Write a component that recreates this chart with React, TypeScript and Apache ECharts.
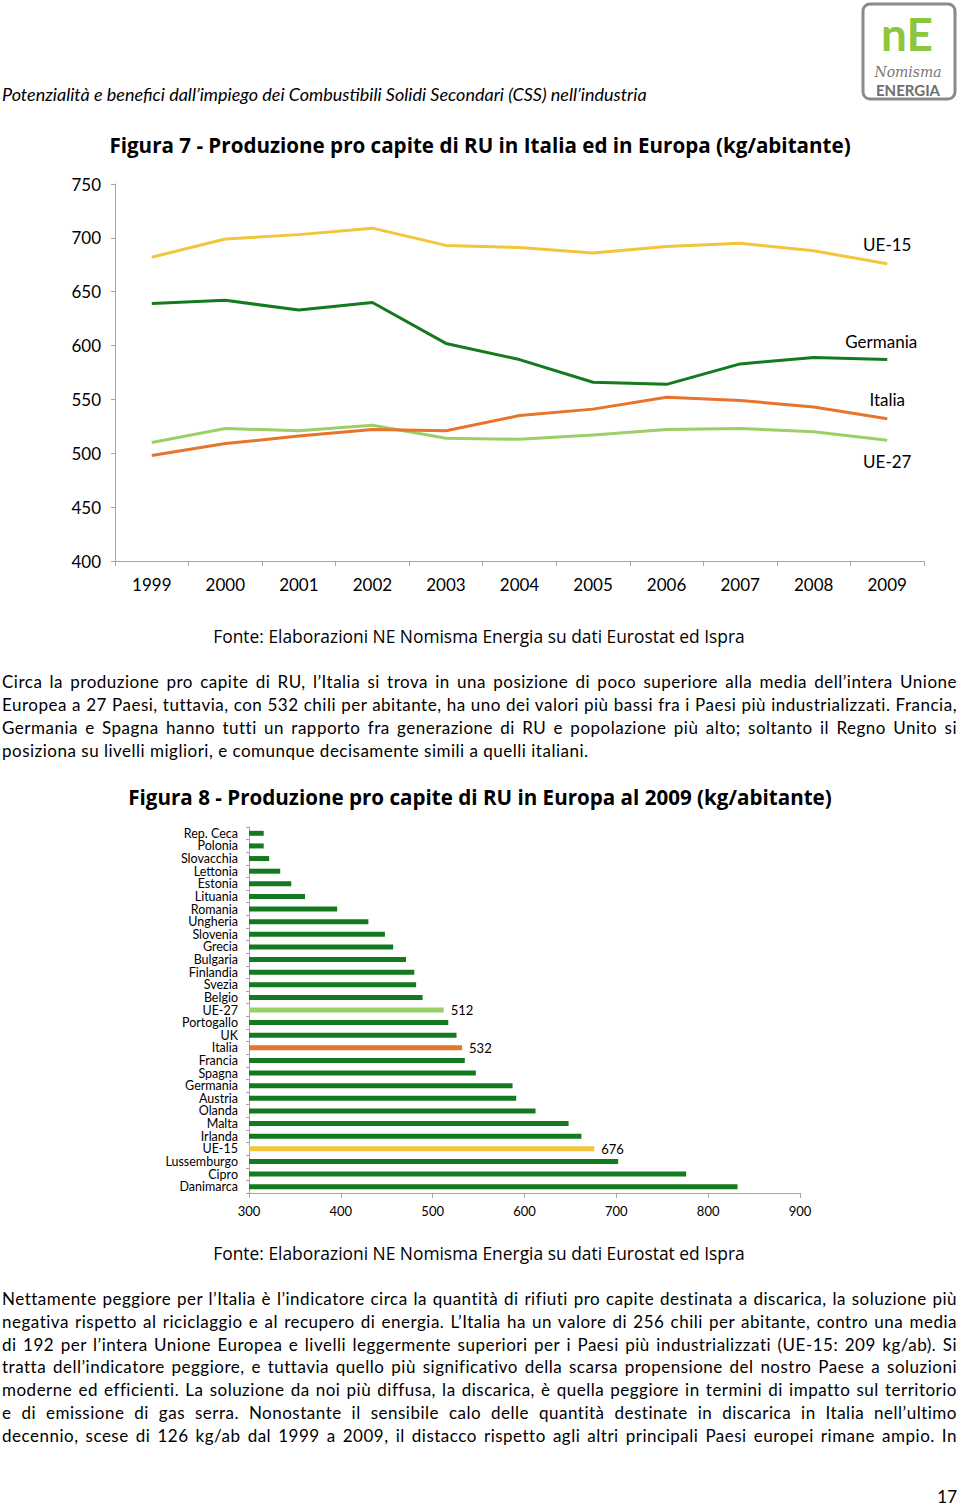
import React, { useEffect, useRef } from "react";
import * as echarts from "echarts";

const FONT = "Lato, 'Noto Sans', sans-serif";
const TITLE_FONT = "'Open Sans', Lato, sans-serif";

// Figura 7 data
const years = ["1999", "2000", "2001", "2002", "2003", "2004", "2005", "2006", "2007", "2008", "2009"];
const ue15 = [682, 699, 703, 709, 693, 691, 686, 692, 695, 688, 676];
const germania = [639, 642, 633, 640, 602, 587, 566, 564, 583, 589, 587];
const italia = [498, 509, 516, 522, 521, 535, 541, 552, 549, 543, 532];
const ue27 = [510, 523, 521, 526, 514, 513, 517, 522, 523, 520, 512];
const lineTicks = { min: 400, max: 750, interval: 50 };

// Figura 8 data
const countries = [
  "Rep. Ceca", "Polonia", "Slovacchia", "Lettonia", "Estonia", "Lituania", "Romania", "Ungheria",
  "Slovenia", "Grecia", "Bulgaria", "Finlandia", "Svezia", "Belgio", "UE-27", "Portogallo", "UK",
  "Italia", "Francia", "Spagna", "Germania", "Austria", "Olanda", "Malta", "Irlanda", "UE-15",
  "Lussemburgo", "Cipro", "Danimarca",
];
const values2009 = [
  316, 316, 322, 334, 346, 361, 396, 430, 448, 457, 471, 480, 482, 489, 512, 517, 526,
  532, 535, 547, 587, 591, 612, 648, 662, 676, 702, 776, 832,
];
const barTicks = { min: 300, max: 900, interval: 100 };

const DARK_GREEN = "#137a1f";
const LIGHT_GREEN = "#9bd066";
const ORANGE = "#e8732a";
const YELLOW = "#f3c53b";
const AXIS_GRAY = "#a6a6a6";

const highlight: Record<string, string> = { "UE-27": LIGHT_GREEN, Italia: ORANGE, "UE-15": YELLOW };

const para1 = [
  "Circa la produzione pro capite di RU, l’Italia si trova in una posizione di poco superiore alla media dell’intera Unione",
  "Europea a 27 Paesi, tuttavia, con 532 chili per abitante, ha uno dei valori più bassi fra i Paesi più industrializzati. Francia,",
  "Germania e Spagna hanno tutti un rapporto fra generazione di RU e popolazione più alto; soltanto il Regno Unito si",
  "posiziona su livelli migliori, e comunque decisamente simili a quelli italiani.",
];
const para2 = [
  "Nettamente peggiore per l’Italia è l’indicatore circa la quantità di rifiuti pro capite destinata a discarica, la soluzione più",
  "negativa rispetto al riciclaggio e al recupero di energia. L’Italia ha un valore di 256 chili per abitante, contro una media",
  "di 192 per l’intera Unione Europea e livelli leggermente superiori per i Paesi più industrializzati (UE-15: 209 kg/ab). Si",
  "tratta dell’indicatore peggiore, e tuttavia quello più significativo della scarsa propensione del nostro Paese a soluzioni",
  "moderne ed efficienti. La soluzione da noi più diffusa, la discarica, è quella peggiore in termini di impatto sul territorio",
  "e di emissione di gas serra. Nonostante il sensibile calo delle quantità destinate in discarica in Italia nell’ultimo",
  "decennio, scese di 126 kg/ab dal 1999 a 2009, il distacco rispetto agli altri principali Paesi europei rimane ampio. In",
];

function endLabelData(vals: number[], name: string, pos: "top" | "bottom", dist: number, dx = 0) {
  return vals.map((v, i) =>
    i === vals.length - 1
      ? {
          value: v,
          label: {
            show: true,
            position: pos,
            distance: dist,
            offset: [dx, 0],
            formatter: name,
            fontSize: 17,
            fontFamily: FONT,
            color: "#000",
          },
        }
      : v
  );
}

function lineSeries(name: string, vals: number[], color: string, pos: "top" | "bottom", dist: number, dx = 0) {
  return {
    type: "line",
    name,
    xAxisIndex: 0,
    yAxisIndex: 0,
    data: endLabelData(vals, name, pos, dist, dx),
    symbol: "circle",
    symbolSize: 0.1,
    showSymbol: true,
    showAllSymbol: true,
    label: { show: false },
    lineStyle: { color, width: 3 },
    itemStyle: { color },
  };
}

export default function App() {
  const ref = useRef<HTMLDivElement>(null);

  useEffect(() => {
    if (!ref.current) return;
    const chart = echarts.init(ref.current, undefined, { renderer: "svg" });
    const txt = (x: number, y: number, text: string, size: number, extra: any = {}) => ({
      type: "text",
      x,
      y,
      silent: true,
      style: {
        text,
        fontSize: size,
        fontFamily: FONT,
        fill: "#000",
        align: "center",
        verticalAlign: "middle",
        lineHeight: size,
        ...extra,
      },
    });
    chart.setOption({
      animation: false,
      textStyle: { fontFamily: FONT },
      grid: [
        { left: 115, top: 184, width: 809, height: 377 },
        { left: 249, top: 827, width: 551, height: 366 },
      ],
      xAxis: [
        {
          gridIndex: 0,
          type: "category",
          data: years,
          boundaryGap: true,
          axisLine: { show: true, lineStyle: { color: AXIS_GRAY, width: 1 } },
          axisTick: { show: true, length: 5, lineStyle: { color: AXIS_GRAY } },
          axisLabel: { fontSize: 17, margin: 15, color: "#000", fontFamily: FONT },
          splitLine: { show: false },
        },
        {
          gridIndex: 1,
          type: "value",
          ...barTicks,
          axisLine: { show: true, lineStyle: { color: AXIS_GRAY, width: 1 } },
          axisTick: { show: true, length: 5, lineStyle: { color: AXIS_GRAY } },
          axisLabel: { fontSize: 13, margin: 11, color: "#000", fontFamily: FONT },
          splitLine: { show: false },
        },
      ],
      yAxis: [
        {
          gridIndex: 0,
          type: "value",
          ...lineTicks,
          axisLine: { show: true, lineStyle: { color: AXIS_GRAY, width: 1 } },
          axisTick: { show: true, length: 4, lineStyle: { color: AXIS_GRAY } },
          axisLabel: { fontSize: 17, margin: 14, color: "#000", fontFamily: FONT },
          splitLine: { show: false },
        },
        {
          gridIndex: 1,
          type: "category",
          data: countries,
          inverse: true,
          axisLine: { show: true, lineStyle: { color: AXIS_GRAY, width: 1 } },
          axisTick: { show: true, length: 3, lineStyle: { color: AXIS_GRAY } },
          axisLabel: { fontSize: 12.5, margin: 11, color: "#000", interval: 0, fontFamily: FONT },
          splitLine: { show: false },
        },
      ],
      series: [
        lineSeries("UE-27", ue27, LIGHT_GREEN, "bottom", 13),
        lineSeries("Italia", italia, ORANGE, "top", 11),
        lineSeries("Germania", germania, DARK_GREEN, "top", 10, -6),
        lineSeries("UE-15", ue15, YELLOW, "top", 11),
        {
          type: "bar",
          xAxisIndex: 1,
          yAxisIndex: 1,
          barWidth: 5,
          data: values2009.map((v, i) => {
            const c = highlight[countries[i]];
            return {
              value: v,
              itemStyle: { color: c || DARK_GREEN },
              label: c
                ? { show: true, position: "right", distance: 7, fontSize: 13, color: "#000", fontFamily: FONT }
                : { show: false },
            };
          }),
        },
      ],
      graphic: [
        txt(480, 145, "Figura 7 - Produzione pro capite di RU in Italia ed in Europa (kg/abitante)", 20.6, { fontWeight: "bold", fontFamily: TITLE_FONT }),
        txt(479, 636, "Fonte: Elaborazioni NE Nomisma Energia su dati Eurostat ed Ispra", 17.4, { fontFamily: TITLE_FONT }),
        txt(480, 797, "Figura 8 - Produzione pro capite di RU in Europa al 2009 (kg/abitante)", 20.6, { fontWeight: "bold", fontFamily: TITLE_FONT }),
        txt(479, 1253, "Fonte: Elaborazioni NE Nomisma Energia su dati Eurostat ed Ispra", 17.4, { fontFamily: TITLE_FONT }),
        {
          type: "rect",
          silent: true,
          shape: { x: 863, y: 4, width: 92, height: 95, r: 7 },
          style: { fill: "none", stroke: "#8a8a8a", lineWidth: 3 },
        },
        txt(907, 33, "nE", 46, { fontWeight: "bold", fill: "#8cc63e" }),
        txt(908, 71.5, "Nomisma", 14, { fontStyle: "italic", fontFamily: "'DejaVu Serif', serif", fill: "#777" }),
        txt(908, 89.5, "ENERGIA", 15, { fontWeight: "bold", fill: "#6d6d6d" }),
      ],
    });
    return () => chart.dispose();
  }, []);

  const lineStyle = (last: boolean): React.CSSProperties => ({
    whiteSpace: "nowrap",
    textAlign: last ? "left" : "justify",
    textAlignLast: last ? "left" : "justify",
  });

  return (
    <div style={{ position: "absolute", left: 0, top: 0, width: 960, height: 1505, fontFamily: FONT, color: "#000", background: "#fff" }}>
      <div ref={ref} style={{ position: "absolute", left: 0, top: 0, width: 960, height: 1505 }} />
      <div style={{ position: "absolute", left: 2, top: 82, fontSize: 18, fontStyle: "italic", whiteSpace: "nowrap", lineHeight: "24px" }}>
        Potenzialità e benefici dall’impiego dei Combustibili Solidi Secondari (CSS) nell’industria
      </div>
      <div style={{ position: "absolute", left: 2, top: 670, width: 955, fontSize: 17, lineHeight: "23px", letterSpacing: "0.5px" }}>
        {para1.map((l, i) => (
          <div key={i} style={lineStyle(i === para1.length - 1)}>{l}</div>
        ))}
      </div>
      <div style={{ position: "absolute", left: 2, top: 1288, width: 955, fontSize: 17, lineHeight: "22.8px", letterSpacing: "0.5px" }}>
        {para2.map((l, i) => (
          <div key={i} style={lineStyle(false)}>{l}</div>
        ))}
      </div>
      <div style={{ position: "absolute", right: 3, top: 1486, fontSize: 17, lineHeight: "22px" }}>17</div>
    </div>
  );
}
